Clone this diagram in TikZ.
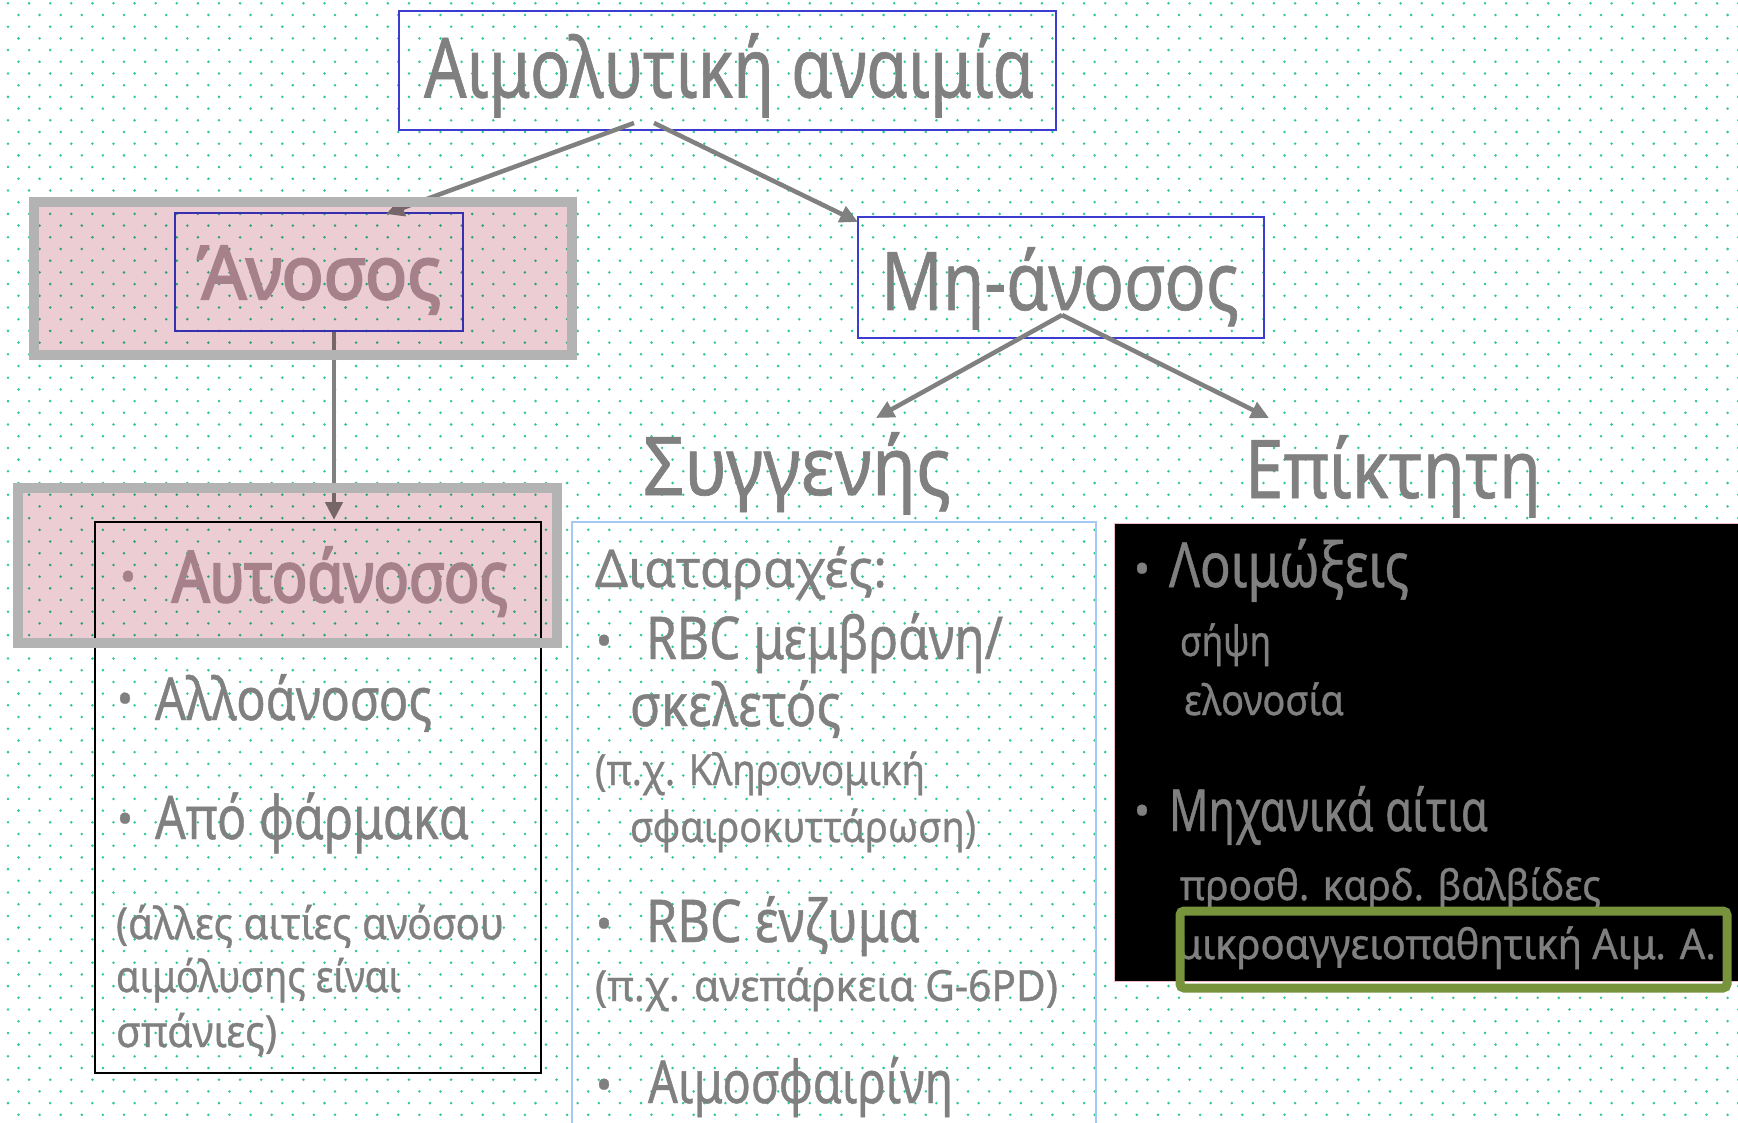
\documentclass[tikz,border=0pt]{standalone}
\usepackage{graphicx}
\usepackage{fontspec}
\setmainfont{Noto Sans}[FakeBold=0.8]
\newfontfamily\bfam{Noto Sans}[FakeBold=3]
\usetikzlibrary{arrows.meta,calc}
\pgfdeclarelayer{bg}
\pgfdeclarelayer{fg}
\pgfsetlayers{bg,main,fg}
\definecolor{txtgrey}{RGB}{128,128,128}
\definecolor{mauvetxt}{RGB}{180,160,168}
\definecolor{dotc}{RGB}{45,200,150}
\definecolor{pinkc}{RGB}{236,205,212}
\definecolor{framec}{RGB}{179,179,179}
\definecolor{blueb}{RGB}{60,60,210}
\definecolor{lightblueb}{RGB}{165,200,245}
\definecolor{greenb}{RGB}{119,147,60}
\newcommand{\fw}[3]{\resizebox{#1pt}{\height}{\fontsize{#2pt}{#2pt}\selectfont #3}}
\newcommand{\bu}{\fontsize{44pt}{44pt}\selectfont •}
\tikzset{
  lbl/.style={anchor=base west, inner sep=0pt, outer sep=0pt, text=txtgrey},
  bul/.style={anchor=center, inner sep=0pt, outer sep=0pt, text=txtgrey, yshift=-8.5pt},
  bluebox/.style={draw=blueb, line width=2pt, inner sep=0pt},
  frameshape/.style={inner sep=0pt, outer sep=0pt},
  conn/.style={draw=txtgrey, line width=4.5pt, -{Triangle[length=18pt,width=17pt]}},
  dotline/.style={draw=dotc, line width=2.8pt, line cap=round, dash pattern=on 0pt off 21.1pt},
}
\begin{document}
\begin{tikzpicture}[x=1pt,y=-1pt]
\useasboundingbox (0,0) rectangle (1738,1123);
\begin{pgfonlayer}{bg}
  \fill[white] (0,0) rectangle (1738,1123);
  \foreach \k in {0,...,95}{
    \pgfmathsetmacro\yy{3.3+11.7*\k}
    \pgfmathsetmacro\xx{mod(\k,2)==0 ? 8 : 18.5}
    \draw[dotline] (\xx,\yy) -- (1745,\yy);
  }
\end{pgfonlayer}

% ---------- boxes ----------
\node[bluebox, minimum width=657pt, minimum height=119pt] (title) at (727.5,70.5) {};
\node[lbl] (titletxt) at (424,97.5) {\fw{610}{83}{Αιμολυτική αναιμία}};

\path node[frameshape, minimum width=538pt, minimum height=153pt] (anosframe) at (303,278.5) {};
\node[bluebox, minimum width=288pt, minimum height=118pt] (anosbox) at (319,272) {};
\node[lbl, text=mauvetxt] (anostxt) at (197,299) {\fw{244}{74}{\bfam Άνοσος}};

\node[bluebox, minimum width=406pt, minimum height=121pt] (mhbox) at (1061,277.5) {};
\node[lbl] (mhtxt) at (881,310) {\fw{358}{81}{Μη-άνοσος}};

\node[lbl] (syg) at (643,495) {\fw{308}{81}{Συγγενής}};
\node[lbl] (epi) at (1245,498) {\fw{296}{81}{Επίκτητη}};

\path node[frameshape, minimum width=539pt, minimum height=155pt] (autoframe) at (287.5,565.5) {};
\node[draw=black, line width=2.5pt, inner sep=0pt, minimum width=446pt, minimum height=551pt] (leftbox) at (318,797.5) {};

\node[draw=lightblueb, line width=1.5pt, inner sep=0pt, minimum width=524pt, minimum height=620pt] (midbox) at (834,832) {};

% ---------- left column texts ----------
\node[bul, text=mauvetxt] (b1) at (128,573) {\bu};
\node[lbl, text=mauvetxt] (t1) at (172,602) {\fw{336}{71}{\bfam Αυτοάνοσος}};
\node[bul] (b2) at (125,695) {\bu};
\node[lbl] (t2) at (155,720) {\fw{277}{59}{Αλλοάνοσος}};
\node[bul] (b3) at (125,815) {\bu};
\node[lbl] (t3) at (155,839) {\fw{314}{60}{Από φάρμακα}};
\node[lbl] (t4) at (116,939) {\fw{388}{44}{(άλλες αιτίες ανόσου}};
\node[lbl] (t5) at (116,992) {\fw{285}{44}{αιμόλυσης είναι}};
\node[lbl] (t6) at (116,1047) {\fw{161}{44}{σπάνιες)}};

% ---------- middle column texts ----------
\node[lbl] (m1) at (595,587) {\fw{292}{52}{Διαταραχές:}};
\node[bul] (mb1) at (604,637) {\bu};
\node[lbl] (m2) at (646,659) {\fw{357}{59}{RBC μεμβράνη/}};
\node[lbl] (m3) at (630,726) {\fw{211}{59}{σκελετός}};
\node[lbl] (m4) at (595,785) {\fw{330}{43}{(π.χ. Κληρονομική}};
\node[lbl] (m5) at (630,842) {\fw{346}{43}{σφαιροκυττάρωση)}};
\node[bul] (mb2) at (604,920) {\bu};
\node[lbl] (m6) at (646,942) {\fw{274}{59}{RBC ένζυμα}};
\node[lbl] (m7) at (595,1001) {\fw{463}{43}{(π.χ. ανεπάρκεια G-6PD)}};
\node[bul] (mb3) at (604,1081) {\bu};
\node[lbl] (m8) at (648,1103) {\fw{305}{59}{Αιμοσφαιρίνη}};

% ---------- connectors ----------
\coordinate (tA) at ($(title.south)+(-93.5,-8)$);
\coordinate (tB) at ($(title.south)+(-73.5,-8)$);
\coordinate (anosIn) at (386,214);
\coordinate (mhA) at ($(mhbox.south)+(1,-24)$);
\coordinate (sygTip) at (876,418);
\coordinate (epiTip) at (1269,418);
\coordinate (mhTip) at (858,222);
\coordinate (autoTip) at ($(anosbox.south)+(15,188)$);
\draw[conn] (tA) -- (anosIn);
\draw[conn] (tB) -- (mhTip);
\draw[conn] (mhA) -- (sygTip);
\draw[conn] (mhA) -- (epiTip);
\draw[conn] ($(anosbox.south)+(15,0)$) -- (autoTip);

% ---------- overlays ----------
\begin{pgfonlayer}{fg}
  \begin{scope}[blend mode=multiply]
    \fill[pinkc] (anosframe.north west) rectangle (anosframe.south east);
    \fill[pinkc] (autoframe.north west) rectangle (autoframe.south east);
  \end{scope}
  \draw[framec, line width=10pt] (anosframe.north west) rectangle (anosframe.south east);
  \draw[framec, line width=10pt] (autoframe.north west) rectangle (autoframe.south east);

  \node[fill=black, draw={rgb,255:red,235;green,190;blue,200}, line width=1pt, inner sep=0pt, minimum width=631pt, minimum height=458pt] (rightbox) at (1429.5,752) {};
  \node[bul] (rb1) at (1142,565) {\bu};
  \node[lbl] (r1) at (1169,587) {\fw{240}{62}{Λοιμώξεις}};
  \node[lbl] (r2) at (1180,656) {\fw{91}{42}{σήψη}};
  \node[lbl] (r3) at (1184,715) {\fw{160}{42}{ελονοσία}};
  \node[bul] (rb2) at (1142,807) {\bu};
  \node[lbl] (r4) at (1169,831) {\fw{319}{58}{Μηχανικά αίτια}};
  \node[lbl] (r5) at (1180,900) {\fw{421}{42}{προσθ. καρδ. βαλβίδες}};
  \node[lbl] (r6) at (1177,959) {\fw{539}{42}{μικροαγγειοπαθητική Αιμ. Α.}};
  \node[draw=greenb, line width=9pt, rounded corners=4pt, inner sep=0pt, minimum width=547pt, minimum height=77pt] (greenbox) at (1453.5,949.5) {};
\end{pgfonlayer}
\end{tikzpicture}
\end{document}
